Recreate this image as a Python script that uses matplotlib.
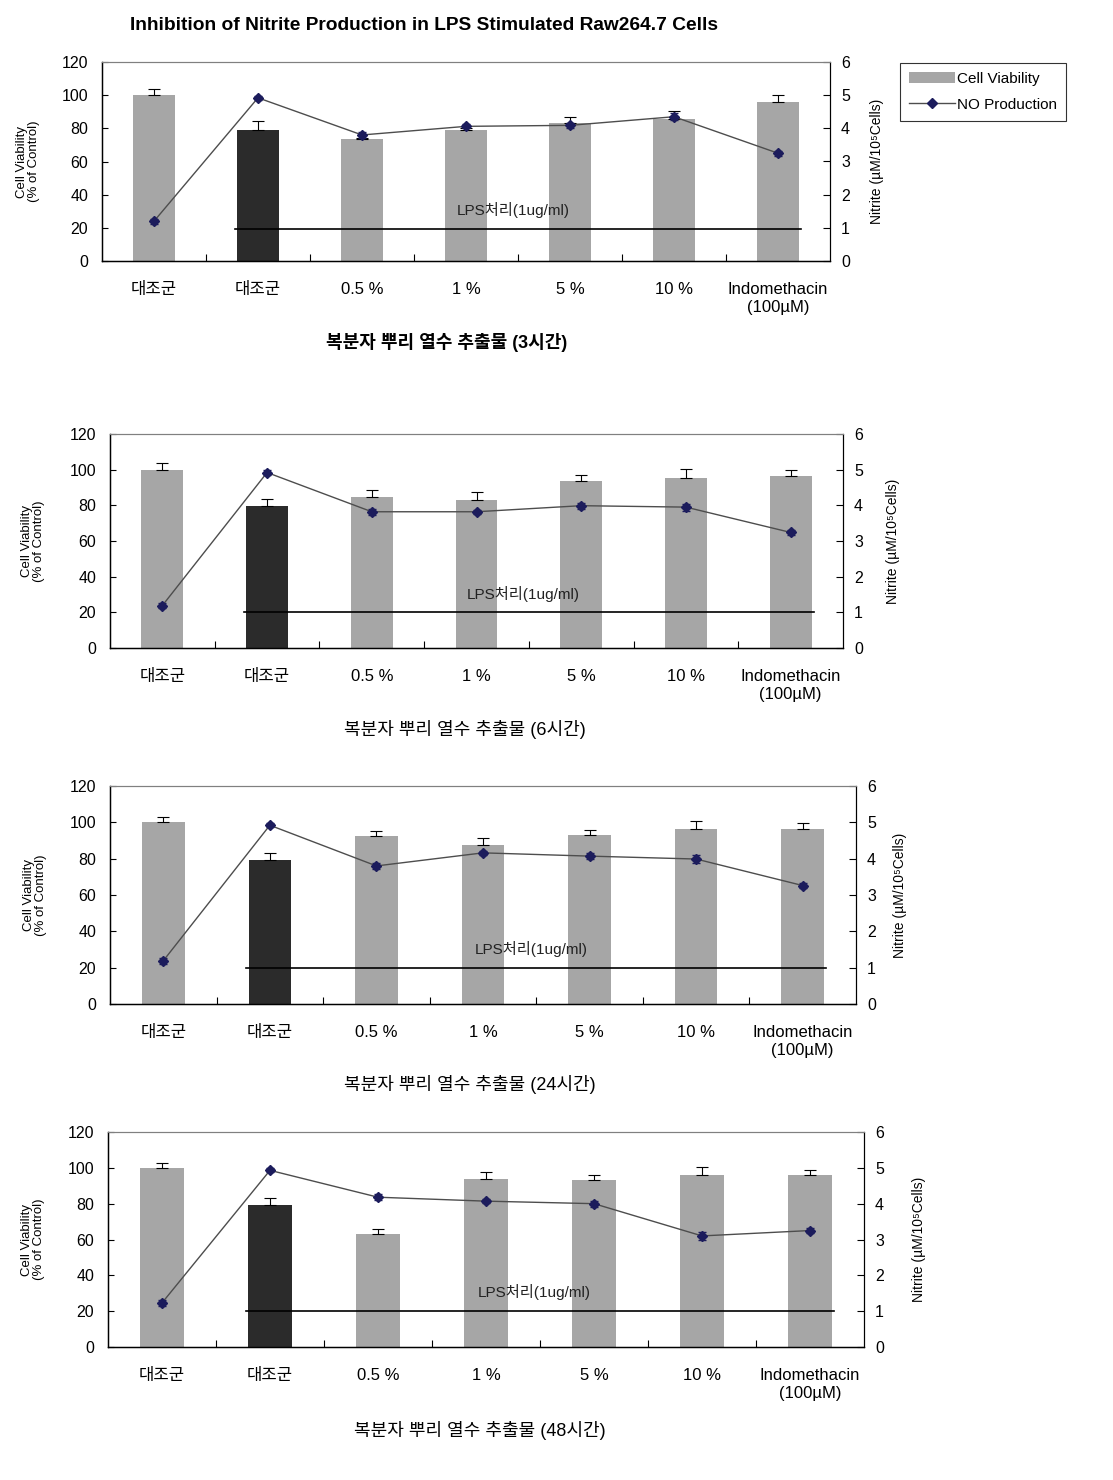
import numpy as np
import matplotlib
matplotlib.use("Agg")
import matplotlib.pyplot as plt
from matplotlib.lines import Line2D
from matplotlib.patches import Patch

plt.rcParams["font.family"] = ["Liberation Sans", "DejaVu Sans", "Noto Sans CJK KR"]

categories = ["대조군", "대조군", "0.5 %", "1 %", "5 %", "10 %", "Indomethacin\n(100µM)"]
subtitles = ["복분자 뿌리 열수 추출물 (3시간)", "복분자 뿌리 열수 추출물 (6시간)",
             "복분자 뿌리 열수 추출물 (24시간)", "복분자 뿌리 열수 추출물 (48시간)"]

# cell viability (% of control) and upper error
viability_3h = [100, 79, 73.5, 79, 83.5, 85.5, 96]
viability_err_3h = [3.7, 5.3, 0.8, 1.2, 3.5, 5.0, 3.8]
viability_6h = [100, 79.5, 84.6, 83, 93.4, 95.5, 96.2]
viability_err_6h = [3.6, 4.2, 4.2, 4.5, 3.4, 4.9, 3.5]
viability_24h = [100.2, 79.4, 92.4, 87.4, 93.2, 96.6, 96.6]
viability_err_24h = [2.9, 3.7, 2.8, 4.1, 2.8, 4.2, 2.8]
viability_48h = [99.7, 79.1, 63.1, 93.8, 93.1, 96.1, 96.1]
viability_err_48h = [2.8, 4.3, 2.8, 3.6, 3.0, 4.3, 2.8]

# nitrite (uM/10^5 cells)
nitrite_3h = [1.2, 4.92, 3.8, 4.06, 4.09, 4.35, 3.25]
nitrite_6h = [1.19, 4.92, 3.82, 3.82, 3.99, 3.95, 3.24]
nitrite_24h = [1.19, 4.92, 3.8, 4.16, 4.07, 3.99, 3.26]
nitrite_48h = [1.23, 4.93, 4.18, 4.07, 4.0, 3.1, 3.25]
nitrite_err = [0.08, 0.06, 0.08, 0.06, 0.08, 0.1, 0.08]

lps_level = [19, 20, 20, 20]

viability = [viability_3h, viability_6h, viability_24h, viability_48h]
viability_err = [viability_err_3h, viability_err_6h, viability_err_24h, viability_err_48h]
nitrite = [nitrite_3h, nitrite_6h, nitrite_24h, nitrite_48h]

W, H = 1113, 1480
fig = plt.figure(figsize=(W / 100, H / 100), dpi=100)

# axes boxes in pixels: left, top, right, bottom
boxes = [(102, 62, 830, 261), (110, 434, 843, 648), (110, 786, 856, 1004), (108, 1132, 864, 1347)]
left_label_x = [40, 45, 47, 45]
right_label_x = [870, 886, 893, 912]
subtitle_pos = [(447, 343), (465, 730), (470, 1085), (480, 1430)]

light = "#a6a6a6"
dark = "#2b2b2b"
navy = "#1c1c5c"

x = np.arange(len(categories))
for i in range(4):
    l, t, r, b = boxes[i]
    ax = fig.add_axes([l / W, 1 - b / H, (r - l) / W, (b - t) / H])
    colors = [light] * len(categories)
    colors[1] = dark
    ax.bar(x, viability[i], width=0.4, color=colors, zorder=2)
    ax.errorbar(x, viability[i], yerr=[np.zeros(len(x)), viability_err[i]], fmt="none",
                ecolor="black", elinewidth=0.8, capsize=4, capthick=0.8, zorder=3)
    ax.plot([0.78, 6.22], [lps_level[i], lps_level[i]], color="black", lw=1.2, zorder=4)
    ax.text(3.45, 30.5, "LPS처리(1ug/ml)", ha="center", va="center", fontsize=11, color="#222222", zorder=5)
    ax.set_xlim(-0.5, 6.5)
    ax.set_ylim(0, 120)
    ax.set_yticks(range(0, 121, 20))
    ax.set_xticks(x)
    ax.set_xticklabels(categories, fontsize=12, linespacing=1.3)
    ax.set_xticks(np.arange(0.5, 6.5, 1), minor=True)
    ax.tick_params(axis="x", which="major", length=0, pad=15)
    ax.tick_params(axis="x", which="minor", direction="in", length=5, width=0.8)
    ax.tick_params(axis="y", direction="in", length=4, width=0.8, labelsize=11.5, pad=10)
    ax.set_ylabel("Cell Viability\n(% of Control)", fontsize=9.5, linespacing=1.0)
    ax.yaxis.set_label_coords((left_label_x[i] - l) / (r - l), 0.5)
    ax.spines["top"].set_color("#808080")
    for s in ["left", "bottom"]:
        ax.spines[s].set_linewidth(1.0)

    ax2 = ax.twinx()
    ax2.errorbar(x, nitrite[i], yerr=nitrite_err, color="#4d4d4d", lw=1.0, marker="D",
                 markersize=5, markerfacecolor=navy, markeredgecolor=navy,
                 ecolor=navy, elinewidth=0.8, capsize=3, zorder=6)
    ax2.set_ylim(0, 6)
    ax2.set_yticks(range(0, 7))
    ax2.tick_params(axis="y", direction="in", length=5, width=0.8, labelsize=11.5, pad=8)
    ax2.set_ylabel("Nitrite (µM/10⁵Cells)", fontsize=10)
    ax2.yaxis.set_label_coords((right_label_x[i] - l) / (r - l), 0.5)
    ax2.spines["top"].set_color("#808080")

    sx, sy = subtitle_pos[i]
    fig.text(sx / W, 1 - sy / H, subtitles[i], ha="center", va="center", fontsize=13,
             fontweight="bold" if i == 0 else "normal")

fig.text(130 / W, 1 - 26 / H, "Inhibition of Nitrite Production in LPS Stimulated Raw264.7 Cells",
         ha="left", va="center", fontsize=13.8, fontweight="bold")

handles = [Patch(facecolor=light, edgecolor="none"),
           Line2D([0], [0], color="#4d4d4d", lw=1, marker="D", markersize=5,
                  markerfacecolor=navy, markeredgecolor=navy)]
leg = fig.legend(handles, ["Cell Viability", "NO Production"], loc="upper left",
                 bbox_to_anchor=(900 / W, 1 - 63 / H), fontsize=11, frameon=True,
                 fancybox=False, edgecolor="black", borderaxespad=0, handlelength=3.0,
                 handletextpad=0.1, labelspacing=0.75, borderpad=0.6)
leg.get_frame().set_linewidth(0.8)

fig.savefig("out.png", dpi=100)
